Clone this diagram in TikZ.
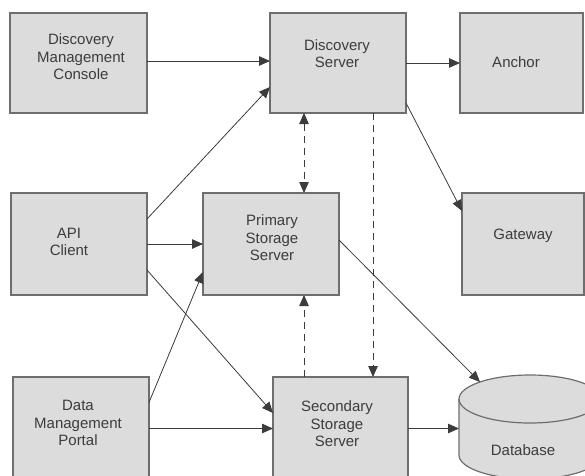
\documentclass[tikz,border=0pt]{standalone}
\usepackage{fontspec}
\setmainfont{Liberation Sans}
\usetikzlibrary{arrows.meta,calc}
\definecolor{boxfill}{HTML}{DCDCDC}
\definecolor{boxline}{HTML}{6E6E6E}
\definecolor{inkgrey}{HTML}{3C3C3C}
\tikzset{
  box/.style={draw=boxline, fill=boxfill, line width=1.2pt, rectangle, inner sep=0pt, outer sep=0pt},
  lbl/.style={align=center, text=inkgrey, inner sep=0pt, font=\fontsize{15}{17.5}\selectfont},
  tip/.style={Triangle[length=11pt,width=9.5pt]},
  conn/.style={draw=inkgrey, line width=0.8pt, -{Triangle[length=11pt,width=9.5pt]}},
  dconn/.style={conn, dash pattern=on 7pt off 5pt},
  ddconn/.style={dconn, {Triangle[length=11pt,width=9.5pt]}-{Triangle[length=11pt,width=9.5pt]}}
}
\begin{document}
\begin{tikzpicture}[x=1pt,y=1pt]
  \useasboundingbox (0,0) rectangle (585,-475);
  \clip (0,0) rectangle (585,-475);
  \fill[white] (0,0) rectangle (585,-475);

  % boxes
  \node[box, minimum width=137pt, minimum height=100pt] (dmc)    at (78.5,-63) {};
  \node[box, minimum width=136pt, minimum height=100pt] (dsrv)   at (338,-63) {};
  \node[box, minimum width=123pt, minimum height=100pt] (anchor) at (521.5,-63) {};
  \node[box, minimum width=136pt, minimum height=102pt] (api)    at (79,-244) {};
  \node[box, minimum width=136pt, minimum height=102pt] (pss)    at (271,-244) {};
  \node[box, minimum width=122pt, minimum height=102pt] (gw)     at (523,-244) {};
  \node[box, minimum width=136pt, minimum height=103pt] (dmp)    at (81,-428.5) {};
  \node[box, minimum width=135pt, minimum height=103pt] (sss)    at (340.5,-428.5) {};

  % database cylinder
  \filldraw[draw=boxline, fill=boxfill, line width=1.2pt]
    (459,-399) -- (459,-455)
    arc[start angle=180, end angle=360, x radius=71pt, y radius=24pt]
    -- (601,-399)
    arc[start angle=0, end angle=180, x radius=71pt, y radius=24pt] -- cycle;
  \draw[draw=boxline, line width=1.2pt]
    (459,-399) arc[start angle=180, end angle=360, x radius=71pt, y radius=24pt];
  \coordinate (dbtop) at (480,-382);
  \coordinate (dbw) at (459,-429);

  % labels
  \node[lbl] (dmct)    at (81,-57)   {Discovery\\Management\\Console};
  \node[lbl] (dsrvt)   at (337,-53.5){Discovery\\Server};
  \node[lbl] (anchort) at (516,-62)  {Anchor};
  \node[lbl] (apit)    at (69,-242)  {API\\Client};
  \node[lbl] (psst)    at (272,-238) {Primary\\Storage\\Server};
  \node[lbl] (gwt)     at (523,-236) {Gateway};
  \node[lbl] (dmpt)    at (78,-423)  {Data\\Management\\Portal};
  \node[lbl] (ssst)    at (337,-424) {Secondary\\Storage\\Server};
  \node[lbl] (dbt)     at (523,-450) {Database};

  % connectors
  \draw[conn] ([yshift=2pt]dmc.east) -- ([yshift=2pt]dsrv.west);
  \draw[conn] ([yshift=25pt]api.east) -- ([yshift=-24pt]dsrv.west);
  \draw[conn] (dsrv.east) -- (anchor.west);
  \draw[ddconn] ([xshift=-34pt]dsrv.south) -- ([xshift=33pt]pss.north);
  \draw[dconn] ([xshift=35pt]dsrv.south) -- ([xshift=35pt]dsrv.south |- sss.north);
  \draw[conn] ([yshift=-40pt]dsrv.east) -- ([yshift=33pt]gw.west);
  \draw[conn] (api.east) -- (pss.west);
  \draw[conn] ([yshift=-26pt]api.east) -- ([yshift=15.5pt]sss.west);
  \draw[conn] ([yshift=26pt]dmp.east) -- ([yshift=-28pt]pss.west);
  \draw[conn] (dmp.east) -- (sss.west);
  \draw[conn] ([yshift=4pt]pss.east) -- (dbtop);
  \draw[dconn] ([xshift=33pt]pss.south |- sss.north) -- ([xshift=33pt]pss.south);
  \draw[conn] (sss.east) -- (sss.east -| dbw);
\end{tikzpicture}
\end{document}
